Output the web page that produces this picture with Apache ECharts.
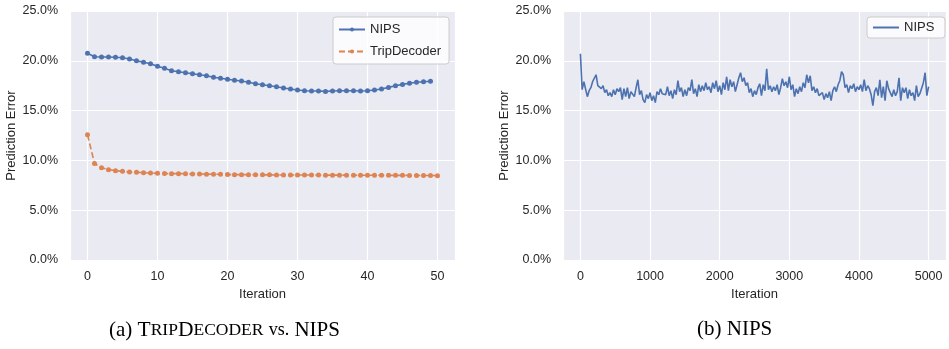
<!DOCTYPE html>
<html>
<head>
<meta charset="utf-8">
<script src="https://cdn.jsdelivr.net/npm/echarts@6/dist/echarts.min.js"></script>
<style>
  html, body { margin: 0; padding: 0; background: #ffffff; }
  #chart1 { width: 949px; height: 349px; }
</style>
</head>
<body>
<div id="chart1"></div>
<script>
// 左图：迭代 0-50
var leftIter = [];
for (var i = 0; i <= 50; i++) leftIter.push(i);

var nipsShort = [20.75, 20.4, 20.38, 20.38, 20.35, 20.3, 20.18, 20.0, 19.85, 19.7,
    19.45, 19.25, 19.0, 18.9, 18.8, 18.7, 18.6, 18.5, 18.35, 18.25,
    18.15, 18.05, 17.97, 17.85, 17.7, 17.6, 17.5, 17.4, 17.27, 17.17,
    17.07, 17.0, 16.97, 16.97, 16.93, 16.97, 17.0, 17.0, 17.0, 16.97,
    17.0, 17.07, 17.17, 17.33, 17.5, 17.63, 17.74, 17.84, 17.9, 17.94];

var tripDecoder = [12.58, 9.7, 9.27, 9.07, 8.97, 8.9, 8.83, 8.8, 8.77, 8.73,
    8.7, 8.68, 8.67, 8.67, 8.66, 8.64, 8.63, 8.62, 8.61, 8.6,
    8.58, 8.57, 8.57, 8.56, 8.56, 8.55, 8.55, 8.54, 8.54, 8.54,
    8.53, 8.53, 8.53, 8.53, 8.52, 8.52, 8.52, 8.52, 8.51, 8.51,
    8.51, 8.51, 8.5, 8.5, 8.5, 8.5, 8.49, 8.49, 8.48, 8.48, 8.47];

// 右图：迭代 0-5000，每 25 次一个点
var longStep = 25;
var nipsLong = [
    20.7, 17.1, 17.9, 17.8, 16.4, 17.0, 17.3, 17.9, 18.0, 18.6,
    17.5, 17.4, 17.2, 17.5, 16.8, 17.1, 16.5, 16.8, 16.4, 17.1,
    16.6, 17.2, 16.9, 17.3, 16.1, 17.2, 16.4, 17.3, 16.2, 16.9,
    17.0, 16.4, 17.3, 18.1, 16.6, 17.0, 16.1, 15.8, 16.6, 16.2,
    16.8, 16.0, 16.5, 15.8, 16.9, 16.6, 17.2, 16.7, 16.9, 16.6,
    17.4, 16.5, 17.0, 16.2, 17.1, 16.6, 18.0, 16.9, 17.3, 16.4,
    17.1, 16.5, 17.3, 17.0, 18.1, 16.7, 17.2, 16.4, 17.6, 16.9,
    17.5, 17.0, 17.8, 17.1, 17.4, 16.8, 17.8, 17.2, 18.0, 16.9,
    17.5, 16.6, 17.8, 17.1, 18.4, 17.0, 18.1, 17.4, 17.9, 16.9,
    17.6, 18.3, 18.8, 17.9, 18.3, 17.5, 17.8, 16.8, 17.2, 16.4,
    17.0, 16.6, 17.3, 17.7, 16.5, 17.6, 17.0, 19.2, 17.1, 17.5,
    16.9, 17.4, 17.0, 17.6, 16.6, 17.3, 18.2, 17.5, 17.9, 17.3,
    18.4, 17.1, 17.6, 16.4, 17.2, 16.7, 17.4, 16.9, 17.8, 17.3,
    18.6, 17.8, 18.5, 17.0, 17.4, 16.8, 17.2, 16.5, 16.3, 16.8,
    16.1, 16.7, 16.3, 16.9, 16.0, 17.0, 17.4, 16.9, 17.6, 18.0,
    18.9, 18.6, 17.3, 17.6, 16.8, 17.5, 17.2, 17.7, 16.9, 17.4,
    17.1, 17.6, 16.9, 18.1, 17.0, 17.5, 17.2, 16.6, 15.5, 16.9,
    17.3, 16.5, 18.1, 16.3, 17.4, 16.0, 18.0, 17.2, 17.0, 16.4,
    17.1, 16.5, 16.9, 18.3, 16.0, 17.3, 16.8, 17.3, 16.2, 17.1,
    16.5, 16.8, 16.0, 17.5, 16.4, 16.7, 16.9, 17.8, 18.8, 16.5,
    17.4];

var yTicks = [0, 5, 10, 15, 20, 25];

var nipsLongData = nipsLong.map(function (v, k) { return [k * longStep, v]; });
var nipsShortData = nipsShort.map(function (v, k) { return [leftIter[k], v]; });
var tripData = tripDecoder.map(function (v, k) { return [leftIter[k], v]; });

var textColor = '#262626';
var font = 'Liberation Sans, Arial, sans-serif';
var serif = 'Liberation Serif, serif';

function pctLabel(v) { return v.toFixed(1) + '%'; }

function xAxisOf(idx, min, max, step) {
    return {
        type: 'value', gridIndex: idx, min: min, max: max,
        name: 'Iteration', nameLocation: 'middle', nameGap: 25,
        nameTextStyle: { color: textColor, fontSize: 13, fontFamily: font },
        axisLine: { show: false }, axisTick: { show: false },
        axisLabel: {
            color: textColor, fontSize: 12.5, fontFamily: font, margin: 10,
            formatter: function (v) { return (v % step === 0) ? String(v) : ''; }
        },
        splitLine: { lineStyle: { color: '#ffffff', width: 1.2 } }
    };
}

function yAxisOf(idx) {
    return {
        type: 'value', gridIndex: idx, min: yTicks[0], max: yTicks[yTicks.length - 1], interval: 5,
        name: 'Prediction Error', nameLocation: 'middle', nameGap: 52,
        nameTextStyle: { color: textColor, fontSize: 13, fontFamily: font },
        axisLine: { show: false }, axisTick: { show: false },
        axisLabel: { color: textColor, fontSize: 12.5, fontFamily: font, margin: 12, formatter: pctLabel },
        splitLine: { lineStyle: { color: '#ffffff', width: 1.2 } }
    };
}

var legendBase = {
    orient: 'vertical', itemWidth: 26, itemHeight: 5, itemGap: 9,
    padding: [6, 8, 6, 5],
    backgroundColor: 'rgba(255,255,255,0.8)', borderColor: '#cccccc', borderWidth: 1, borderRadius: 3,
    textStyle: { color: textColor, fontSize: 13, fontFamily: font }
};

var myChart = echarts.init(document.getElementById('chart1'));
myChart.setOption({
    animation: false,
    title: [
        {
            text: '(a) {big|T}{sc|RIP}{big|D}{sc|ECODER} {sm|vs.} NIPS',
            left: 104, top: 314,
            textStyle: {
                color: '#000', fontSize: 21, fontWeight: 'normal', fontFamily: serif,
                rich: {
                    big: { fontSize: 21.5, fontFamily: serif, color: '#000' },
                    sc: { fontSize: 17.5, fontFamily: serif, color: '#000' },
                    sm: { fontSize: 18, fontFamily: serif, color: '#000' }
                }
            }
        },
        {
            text: '(b) NIPS', left: 692, top: 314,
            textStyle: { color: '#000', fontSize: 21, fontWeight: 'normal', fontFamily: serif }
        }
    ],
    grid: [
        { left: 70, right: 494, top: 11, bottom: 89, show: true, backgroundColor: '#eaeaf2', borderWidth: 0 },
        { left: 563, right: 1, top: 11, bottom: 89, show: true, backgroundColor: '#eaeaf2', borderWidth: 0 }
    ],
    xAxis: [xAxisOf(0, -2.5, 52.5, 10), xAxisOf(1, -250, 5250, 1000)],
    yAxis: [yAxisOf(0), yAxisOf(1)],
    legend: [
        Object.assign({}, legendBase, { data: ['NIPS', 'TripDecoder'], left: 333, top: 17 }),
        Object.assign({}, legendBase, {
            data: ['NIPS '], left: 867, top: 17, padding: [4, 7, 4, 5],
            itemStyle: { opacity: 0 }
        })
    ],
    series: [
        {
            name: 'NIPS', type: 'line', xAxisIndex: 0, yAxisIndex: 0, data: nipsShortData,
            symbol: 'circle', symbolSize: 5, showSymbol: true,
            itemStyle: { color: '#4c72b0' }, lineStyle: { color: '#4c72b0', width: 1.6 }
        },
        {
            name: 'TripDecoder', type: 'line', xAxisIndex: 0, yAxisIndex: 0, data: tripData,
            symbol: 'circle', symbolSize: 5, showSymbol: true,
            itemStyle: { color: '#dd8452' }, lineStyle: { color: '#dd8452', width: 1.6, type: [6, 3] }
        },
        {
            name: 'NIPS ', type: 'line', xAxisIndex: 1, yAxisIndex: 1, data: nipsLongData,
            symbol: 'none', showSymbol: false,
            itemStyle: { color: '#4c72b0' }, lineStyle: { color: '#4c72b0', width: 1.6 }
        }
    ]
});
</script>
</body>
</html>
